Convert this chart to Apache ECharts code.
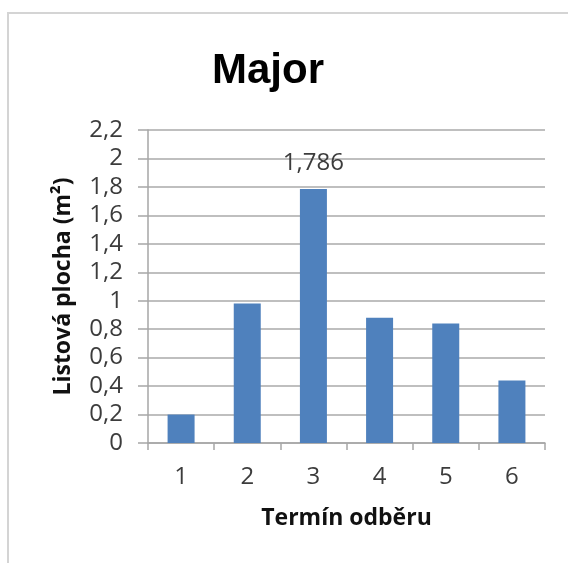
<!DOCTYPE html>
<html>
<head>
<meta charset="utf-8">
<script src="https://cdn.jsdelivr.net/npm/echarts@6/dist/echarts.min.js"></script>
<style>
  html, body { margin: 0; padding: 0; background: #ffffff; }
  #chart { width: 568px; height: 563px; }
</style>
</head>
<body>
<div id="chart"></div>
<script>
// Leaf area per sampling date, variety "Major"
const chartTitle = 'Major';
const categories = ['1', '2', '3', '4', '5', '6'];
const leafArea = [0.2, 0.98, 1.786, 0.88, 0.84, 0.44];
const labelledIndex = 2;          // only the peak value carries a data label
const yTicks = { min: 0, max: 2.2, step: 0.2 };
const xName = 'Termín odběru';
const yName = 'Listová plocha (m²)';

const fmt = v => String(Math.round(v * 1000) / 1000).replace('.', ',');

const chart = echarts.init(document.getElementById('chart'), null, { renderer: 'canvas' });
const textFont = '"Open Sans", "Liberation Sans", sans-serif';
const titleFont = '"Liberation Sans", Arial, sans-serif';

chart.setOption({
  animation: false,
  backgroundColor: '#ffffff',
  title: {
    text: chartTitle,
    left: 263,
    top: 45,
    textAlign: 'center',
    textStyle: { fontFamily: titleFont, fontSize: 42, fontWeight: 'bold', color: '#000000' }
  },
  graphic: [
    { type: 'line', shape: { x1: 7, y1: 13, x2: 568, y2: 13 }, style: { stroke: '#d4d4d4', lineWidth: 2 } },
    { type: 'line', shape: { x1: 8, y1: 13, x2: 8, y2: 563 }, style: { stroke: '#d4d4d4', lineWidth: 2 } }
  ],
  grid: { left: 148, right: 23, top: 130, bottom: 120, containLabel: false },
  xAxis: {
    type: 'category',
    data: categories,
    name: xName,
    nameLocation: 'middle',
    nameGap: 64,
    nameTextStyle: { fontFamily: textFont, fontSize: 23, fontWeight: 'bold', color: '#111111' },
    boundaryGap: true,
    axisLine: { lineStyle: { color: '#a6a6a6', width: 1.5 } },
    axisTick: { show: true, alignWithLabel: false, length: 7, lineStyle: { color: '#a6a6a6', width: 1.5 } },
    axisLabel: { fontFamily: textFont, fontSize: 24, color: '#3c3c3c', margin: 22 },
    splitLine: { show: false }
  },
  yAxis: {
    type: 'value',
    min: yTicks.min,
    max: yTicks.max,
    interval: yTicks.step,
    name: yName,
    nameLocation: 'middle',
    nameGap: 73,
    nameTextStyle: { fontFamily: textFont, fontSize: 23, fontWeight: 'bold', color: '#111111' },
    axisLine: { show: true, lineStyle: { color: '#a6a6a6', width: 1.5 } },
    axisTick: { show: true, length: 10, lineStyle: { color: '#a6a6a6', width: 1.5 } },
    axisLabel: { fontFamily: textFont, fontSize: 24, color: '#3c3c3c', margin: 25, formatter: fmt },
    splitLine: { show: true, lineStyle: { color: '#bfbfbf', width: 2 } }
  },
  series: [{
    type: 'bar',
    data: leafArea.map((v, i) => ({
      value: v,
      label: {
        show: i === labelledIndex,
        position: 'top',
        distance: 14,
        formatter: p => fmt(p.value),
        fontFamily: textFont, fontSize: 24, color: '#3c3c3c'
      }
    })),
    barWidth: 27,
    itemStyle: { color: '#4f81bd' }
  }]
});
</script>
</body>
</html>
